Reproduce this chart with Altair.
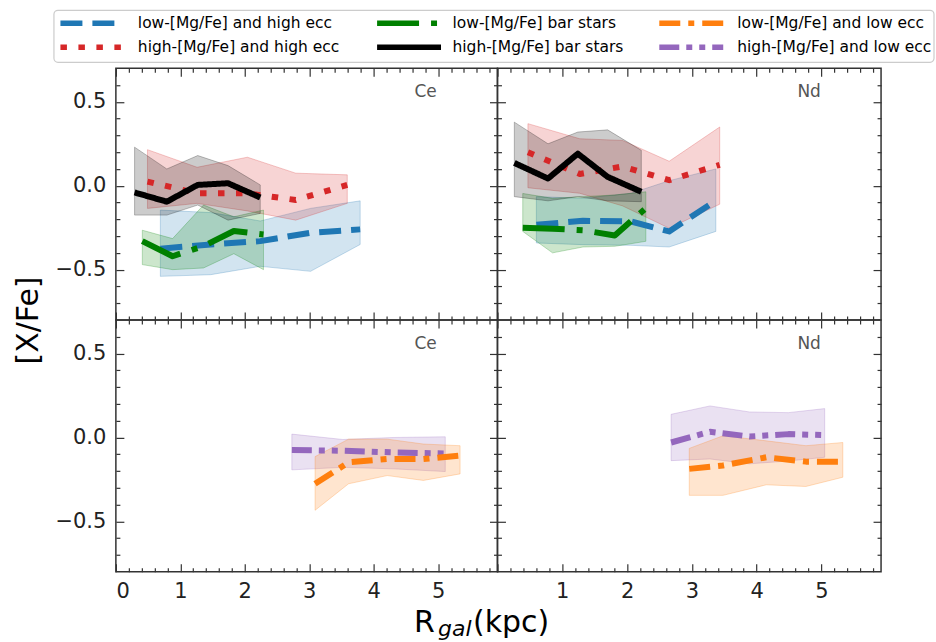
import altair as alt
import pandas as pd

FONT = "DejaVu Sans"

# ---------------- series definitions ----------------
SERIES = [
    "low-[Mg/Fe] and high ecc",
    "low-[Mg/Fe] bar stars",
    "low-[Mg/Fe] and low ecc",
    "high-[Mg/Fe] and high ecc",
    "high-[Mg/Fe] bar stars",
    "high-[Mg/Fe] and low ecc",
]
COLORS = ["#1f77b4", "#008000", "#ff7f0e", "#d62728", "#000000", "#9467bd"]
DASHES = [[22, 10], [42, 12, 6, 12], [21, 8, 6, 8], [6.5, 11.5], [1, 0], [20, 7, 6, 7, 6, 7]]

PANEL_LABELS = ["Ce", "Nd"]

# ---------------- axes ----------------
X_DOMAIN = [0.0, 5.92]
Y_DOMAIN = [-0.8, 0.7]
X_MAJOR_LEFT = [0, 1, 2, 3, 4, 5]
X_MAJOR_RIGHT = [1, 2, 3, 4, 5]
X_MAJOR_TICKS = [0, 1, 2, 3, 4, 5]
X_MINOR = [0.2, 0.4, 0.6, 0.8, 1.2, 1.4, 1.6, 1.8, 2.2, 2.4, 2.6, 2.8,
           3.2, 3.4, 3.6, 3.8, 4.2, 4.4, 4.6, 4.8, 5.2, 5.4, 5.6, 5.8]
Y_MAJOR = [-0.5, 0.0, 0.5]
Y_MINOR = [-0.7, -0.6, -0.4, -0.3, -0.2, -0.1, 0.1, 0.2, 0.3, 0.4, 0.6]

# ---------------- Ce, top row ----------------
ce_lhe_x = [0.69, 1.47, 2.24, 3.02, 3.79]
ce_lhe_y = [-0.375, -0.35, -0.33, -0.28, -0.26]
ce_lhe_lo = [-0.54, -0.53, -0.48, -0.51, -0.35]
ce_lhe_hi = [-0.145, -0.16, -0.21, -0.135, -0.09]

ce_lbar_x = [0.41, 0.88, 1.36, 1.83, 2.29]
ce_lbar_y = [-0.33, -0.42, -0.36, -0.27, -0.29]
ce_lbar_lo = [-0.47, -0.50, -0.49, -0.405, -0.50]
ce_lbar_hi = [-0.265, -0.315, -0.115, -0.185, -0.145]

ce_hhe_x = [0.49, 1.26, 2.04, 2.79, 3.59]
ce_hhe_y = [0.025, -0.045, -0.045, -0.085, 0.005]
ce_hhe_lo = [-0.135, -0.105, -0.15, -0.205, -0.105]
ce_hhe_hi = [0.215, 0.11, 0.17, 0.075, 0.065]

ce_hbar_x = [0.29, 0.79, 1.27, 1.74, 2.24]
ce_hbar_y = [-0.04, -0.095, 0.005, 0.015, -0.07]
ce_hbar_lo = [-0.175, -0.175, -0.115, -0.205, -0.165]
ce_hbar_hi = [0.23, 0.10, 0.18, 0.12, 0.005]

# ---------------- Nd, top row ----------------
nd_lhe_x = [0.60, 1.32, 2.06, 2.65, 3.37]
nd_lhe_y = [-0.233, -0.209, -0.213, -0.272, -0.089]
nd_lhe_lo = [-0.341, -0.351, -0.355, -0.365, -0.272]
nd_lhe_hi = [-0.065, -0.075, -0.045, 0.03, 0.10]

nd_lbar_x = [0.39, 0.85, 1.32, 1.81, 2.29]
nd_lbar_y = [-0.25, -0.256, -0.265, -0.296, -0.134]
nd_lbar_lo = [-0.272, -0.40, -0.365, -0.361, -0.331]
nd_lbar_hi = [-0.046, -0.075, -0.065, -0.055, -0.036]

nd_hhe_x = [0.47, 1.27, 1.93, 2.65, 3.43]
nd_hhe_y = [0.20, 0.07, 0.115, 0.033, 0.125]
nd_hhe_lo = [-0.012, -0.045, -0.12, -0.253, -0.11]
nd_hhe_hi = [0.37, 0.28, 0.27, 0.146, 0.35]

nd_hbar_x = [0.26, 0.78, 1.24, 1.70, 2.22]
nd_hbar_y = [0.136, 0.043, 0.191, 0.053, -0.036]
nd_hbar_lo = [-0.065, -0.09, -0.065, -0.09, -0.095]
nd_hbar_hi = [0.379, 0.25, 0.32, 0.333, 0.211]

# ---------------- Ce, bottom row ----------------
ce_lle_x = [3.09, 3.61, 4.21, 4.77, 5.34]
ce_lle_y = [-0.276, -0.148, -0.128, -0.128, -0.108]
ce_lle_lo = [-0.434, -0.276, -0.227, -0.256, -0.217]
ce_lle_hi = [-0.114, -0.01, -0.01, -0.039, -0.049]

ce_hle_x = [2.73, 3.52, 4.31, 5.11]
ce_hle_y = [-0.075, -0.079, -0.089, -0.095]
ce_hle_lo = [-0.193, -0.178, -0.187, -0.203]
ce_hle_hi = [0.02, -0.012, 0.0, 0.004]

# ---------------- Nd, bottom row ----------------
nd_lle_x = [2.96, 3.48, 4.15, 4.76, 5.33]
nd_lle_y = [-0.187, -0.167, -0.118, -0.144, -0.144]
nd_lle_lo = [-0.345, -0.345, -0.282, -0.292, -0.237]
nd_lle_hi = [-0.065, 0.01, -0.02, -0.049, -0.03]

nd_hle_x = [2.68, 3.28, 3.89, 4.49, 5.05]
nd_hle_y = [-0.03, 0.034, 0.006, 0.02, 0.014]
nd_hle_lo = [-0.138, -0.128, -0.157, -0.14, -0.118]
nd_hle_hi = [0.138, 0.188, 0.152, 0.148, 0.172]


def frame(name, xs, ys, lo, hi):
    return pd.DataFrame({"series": name, "x": xs, "y": ys, "lo": lo, "hi": hi})


ce_top = pd.concat([
    frame(SERIES[0], ce_lhe_x, ce_lhe_y, ce_lhe_lo, ce_lhe_hi),
    frame(SERIES[3], ce_hhe_x, ce_hhe_y, ce_hhe_lo, ce_hhe_hi),
    frame(SERIES[1], ce_lbar_x, ce_lbar_y, ce_lbar_lo, ce_lbar_hi),
    frame(SERIES[4], ce_hbar_x, ce_hbar_y, ce_hbar_lo, ce_hbar_hi),
], ignore_index=True)
nd_top = pd.concat([
    frame(SERIES[0], nd_lhe_x, nd_lhe_y, nd_lhe_lo, nd_lhe_hi),
    frame(SERIES[3], nd_hhe_x, nd_hhe_y, nd_hhe_lo, nd_hhe_hi),
    frame(SERIES[1], nd_lbar_x, nd_lbar_y, nd_lbar_lo, nd_lbar_hi),
    frame(SERIES[4], nd_hbar_x, nd_hbar_y, nd_hbar_lo, nd_hbar_hi),
], ignore_index=True)
ce_bot = pd.concat([
    frame(SERIES[5], ce_hle_x, ce_hle_y, ce_hle_lo, ce_hle_hi),
    frame(SERIES[2], ce_lle_x, ce_lle_y, ce_lle_lo, ce_lle_hi),
], ignore_index=True)
nd_bot = pd.concat([
    frame(SERIES[5], nd_hle_x, nd_hle_y, nd_hle_lo, nd_hle_hi),
    frame(SERIES[2], nd_lle_x, nd_lle_y, nd_lle_lo, nd_lle_hi),
], ignore_index=True)

# legend table (3 columns x 2 rows, filled row by row)
legend_df = pd.DataFrame({
    "series": SERIES,
    "col": [i % 3 for i in range(len(SERIES))],
    "row": [i // 3 for i in range(len(SERIES))],
})

# ---------------- styling ----------------
H = 252
TICK_COLOR = "#333333"

color_scale = alt.Scale(domain=SERIES, range=COLORS)
dash_scale = alt.Scale(domain=SERIES, range=DASHES)
xs = alt.Scale(domain=X_DOMAIN, nice=False, zero=False)
ys = alt.Scale(domain=Y_DOMAIN, nice=False, zero=False)


def tick_axis(orient, values, size, **kw):
    opts = dict(orient=orient, values=values, labels=False, domain=False, grid=False,
                ticks=True, tickSize=size, offset=-size, tickColor=TICK_COLOR,
                tickWidth=1.2, title=None)
    opts.update(kw)
    return alt.Axis(**opts)


TITLE_STYLE = dict(titleFont=FONT, titleColor="black", titleFontWeight="normal")


def legend_layers():
    frame_box = alt.Chart(pd.DataFrame({"k": [0]})).mark_rect(
        fill="white", stroke="#cccccc", strokeWidth=1.2, cornerRadius=4
    ).encode(x=alt.value(-62), x2=alt.value(819), y=alt.value(-58), y2=alt.value(-6))
    ly = alt.Y("row:Q", scale=alt.Scale(domain=[0, 1], range=[-45, -21], nice=False, zero=False),
               axis=None)
    swatch = alt.Chart(legend_df).mark_point(
        shape="M-4,0H4", size=256, strokeWidth=5.5, filled=False, opacity=1, strokeCap="butt"
    ).encode(
        x=alt.X("col:Q", scale=alt.Scale(domain=[0, 1, 2], range=[-23.5, 293.5, 576],
                                         nice=False, zero=False), axis=None),
        y=ly,
        stroke=alt.Stroke("series:N", scale=color_scale, legend=None),
        strokeDash=alt.StrokeDash("series:N", scale=dash_scale, legend=None),
    )
    labels = alt.Chart(legend_df).mark_text(
        align="left", baseline="middle", font=FONT, fontSize=15.5, color="black"
    ).encode(
        x=alt.X("col:Q", scale=alt.Scale(domain=[0, 1, 2], range=[22, 337, 622],
                                         nice=False, zero=False), axis=None),
        y=ly, text="series:N",
    )
    return [frame_box, swatch, labels]


def panel(df, width, label, col, row):
    left = col == 0
    bottom = row == 1
    base = alt.Chart(df)

    band = base.mark_area(fillOpacity=0.2, strokeOpacity=0.25, strokeWidth=1,
                          interpolate="linear").encode(
        x=alt.X("x:Q", scale=xs, axis=None),
        y=alt.Y("hi:Q", scale=ys, axis=None),
        y2=alt.Y2("lo:Q"),
        fill=alt.Fill("series:N", scale=color_scale, legend=None),
        stroke=alt.Stroke("series:N", scale=color_scale, legend=None),
        detail="series:N",
    )
    line = base.mark_line(strokeWidth=6, strokeJoin="round", strokeCap="butt").encode(
        x=alt.X("x:Q", scale=xs, axis=None),
        y=alt.Y("y:Q", scale=ys, axis=None),
        stroke=alt.Stroke("series:N", scale=color_scale, legend=None),
        strokeDash=alt.StrokeDash("series:N", scale=dash_scale, legend=None),
    )
    text = alt.Chart(pd.DataFrame({"label": [label]})).mark_text(
        font=FONT, fontSize=17, color="#555555", align="center", baseline="middle"
    ).encode(text="label:N", x=alt.value(width - 72), y=alt.value(24))

    # labels axes
    xa_kw = dict(orient="bottom", values=X_MAJOR_LEFT if left else X_MAJOR_RIGHT,
                 labels=bottom, ticks=False, domain=False, grid=False, format="d",
                 labelFont=FONT, labelFontSize=21, labelPadding=9, labelColor="#222222",
                 title=None)
    ya_kw = dict(orient="left", values=Y_MAJOR, labels=left, ticks=False, domain=False,
                 grid=False, format=".1f", labelFont=FONT, labelFontSize=21,
                 labelPadding=10, labelColor="#222222", title=None)
    xb_kw = {}
    xc_kw = {}
    if left and bottom:
        xa_kw.update(title="R", titleFontSize=30, titleAlign="left", titleBaseline="alphabetic",
                     titleX=298, titleY=60, titleAngle=0, **TITLE_STYLE)
        xb_kw = dict(title="gal", titleFontSize=22, titleFontStyle="italic", titleAlign="left",
                     titleBaseline="alphabetic", titleX=322, titleY=72, titleAngle=0, **TITLE_STYLE)
        xc_kw = dict(title="(kpc)", titleFontSize=30, titleAlign="left",
                     titleBaseline="alphabetic", titleX=357, titleY=64, titleAngle=0, **TITLE_STYLE)
    if left and not bottom:
        ya_kw.update(title="[X/Fe]", titleFontSize=30, titleAlign="center", titleBaseline="middle",
                     titleAngle=270, titleX=-87, titleY=H, **TITLE_STYLE)

    def axis_layer(xaxis, yaxis):
        return base.mark_point(opacity=0).encode(
            x=alt.X("x:Q", scale=xs, axis=xaxis),
            y=alt.Y("y:Q", scale=ys, axis=yaxis),
        )

    ax_a = axis_layer(alt.Axis(**xa_kw), alt.Axis(**ya_kw))
    ax_b = axis_layer(tick_axis("bottom", X_MAJOR_TICKS, 8, **xb_kw), tick_axis("left", Y_MAJOR, 8))
    ax_c = axis_layer(tick_axis("bottom", X_MINOR, 4, **xc_kw), tick_axis("left", Y_MINOR, 4))
    ax_d = axis_layer(tick_axis("top", X_MAJOR_TICKS, 8), tick_axis("right", Y_MAJOR, 8))
    ax_e = axis_layer(tick_axis("top", X_MINOR, 4), tick_axis("right", Y_MINOR, 4))

    layers = [band, line, text, ax_a, ax_b, ax_c, ax_d, ax_e]
    if left and not bottom:
        layers += legend_layers()

    return alt.layer(*layers).resolve_scale(
        x="independent", y="independent"
    ).resolve_axis(
        x="independent", y="independent"
    ).properties(width=width, height=H)


tl = panel(ce_top, 382, PANEL_LABELS[0], 0, 0)
tr = panel(nd_top, 384, PANEL_LABELS[1], 1, 0)
bl = panel(ce_bot, 382, PANEL_LABELS[0], 0, 1)
br = panel(nd_bot, 384, PANEL_LABELS[1], 1, 1)

chart = alt.concat(tl, tr, bl, br, columns=2, spacing=0, bounds="flush").properties(
    padding={"left": 13, "top": 8, "right": 0, "bottom": 0}
).configure(font=FONT).configure_view(stroke="#333333", strokeWidth=1.5)

chart.save("out.html", embed_options={"renderer": "svg", "actions": False})
